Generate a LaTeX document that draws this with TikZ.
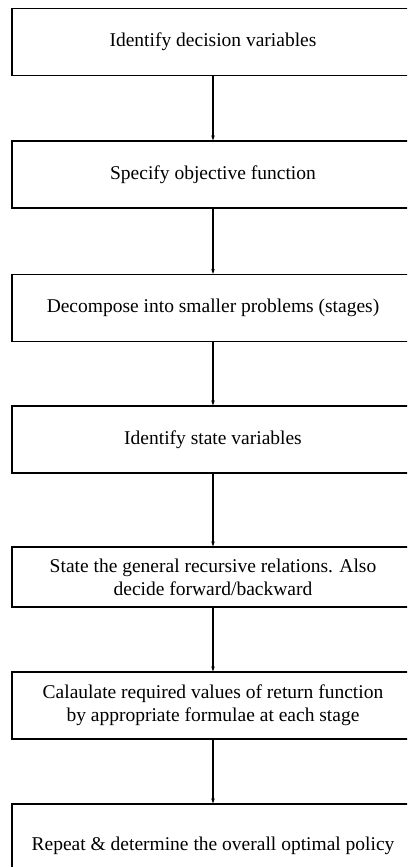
\documentclass[tikz,border=0pt]{standalone}
\usepackage{fontspec}
\setmainfont{Liberation Serif}
\usepackage{tikz}
\usetikzlibrary{arrows.meta, positioning}

\begin{document}
\begin{tikzpicture}[x=1pt, y=-1pt,
        stepbox/.style={rectangle, draw=black, line width=1.1pt, minimum width=402pt, minimum height=67pt, inner sep=0pt, align=center, font=\fontsize{19.5}{23}\selectfont},
        arrowstyle/.style={-{Stealth[length=5pt, width=3.5pt]}, line width=1.2pt, color=black}
    ]
        \useasboundingbox (0,0) rectangle (407,867);
        \clip (0,0) rectangle (407,867);
        \fill[white] (0,0) rectangle (407,867);

        \node[stepbox] (s1) at (213, 42) {Identify decision variables};
        \node[stepbox] (s2) at (213, 174.5) {Specify objective function};
        \node[stepbox] (s3) at (213, 308) {Decompose into smaller problems (stages)};
        \node[stepbox] (s4) at (213, 439.5) {Identify state variables};
        \node[stepbox, minimum height=60pt] (s5) at (213, 577) {State the general recursive relations. Also\\ decide forward/backward};
        \node[stepbox] (s6) at (213, 705.5) {Calaulate required values of return function\\ by appropriate formulae at each stage};
        \node[stepbox, minimum height=84pt] (s7) at (213, 846) {Repeat \& determine the overall optimal policy};

        \draw[arrowstyle] (s1) -- (s2);
        \draw[arrowstyle] (s2) -- (s3);
        \draw[arrowstyle] (s3) -- (s4);
        \draw[arrowstyle] (s4) -- (s5);
        \draw[arrowstyle] (s5) -- (s6);
        \draw[arrowstyle] (s6) -- (s7);
    \end{tikzpicture}
\end{document}
